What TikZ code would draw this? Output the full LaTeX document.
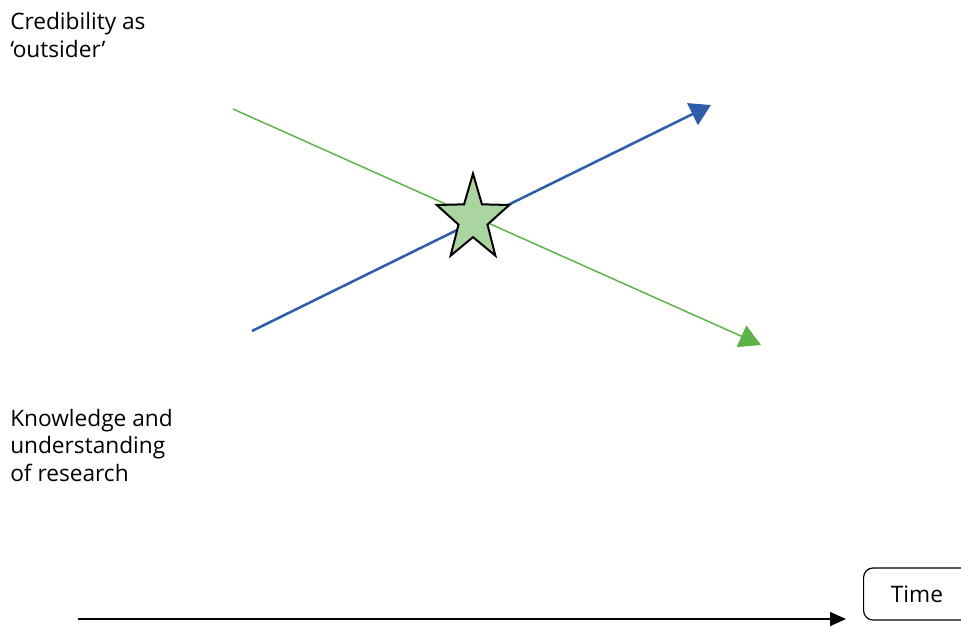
\documentclass[tikz,border=0pt]{standalone}
\usepackage{fontspec}
\setmainfont{Open Sans}
\usepackage{tikz}
\usetikzlibrary{shapes.geometric, arrows.meta, positioning}
\definecolor{lineblue}{RGB}{46,93,170}
\definecolor{linegreen}{RGB}{92,178,70}
\definecolor{starfill}{RGB}{170,213,160}

\begin{document}
\begin{tikzpicture}[
  x=0.75pt, y=-0.75pt,
  sidetext/.style={anchor=base west, align=left, inner sep=0pt,
                font=\fontsize{17}{20.5}\selectfont},
  bluearr/.style={-{Triangle[length=15.5pt, width=18pt]}, line width=1.9pt, lineblue},
  greenarr/.style={-{Triangle[length=16pt, width=17.5pt]}, line width=1.1pt, linegreen},
  timearr/.style={-{Triangle[length=12pt, width=10.5pt]}, line width=1.1pt, black},
  starmark/.style={star, star points=5, star point ratio=2.5, draw=black,
               line width=1.5pt, fill=starfill, minimum size=68pt, inner sep=0pt,
               xscale=0.84, transform shape},
  timebox/.style={rectangle, draw=black, rounded corners=7pt, line width=0.9pt,
                  minimum width=80pt, minimum height=39pt,
                  font=\fontsize{17}{20}\selectfont},
]
\useasboundingbox (0,0) rectangle (961,626);

% last line baselines
\node[sidetext] (cred) at (10,57) {Credibility as\\`outsider'};
\node[sidetext] (know) at (10,481) {Knowledge and\\understanding\\of research};

\coordinate (bs) at (252,331);
\coordinate (be) at (711,105);
\coordinate (gs) at (233,109);
\coordinate (ge) at (761,345);

% crossing lines
\draw[greenarr] (gs) -- (ge);
\draw[bluearr] (bs) -- (be);

\node[starmark] (st) at (473,219) {};

% time axis
\node[timebox, anchor=west] (time) at (863,594) {Time};
\coordinate (ts) at (78,619);
\coordinate (te) at (846,619);
\draw[timearr] (ts) -- (te);

\end{tikzpicture}
\end{document}
